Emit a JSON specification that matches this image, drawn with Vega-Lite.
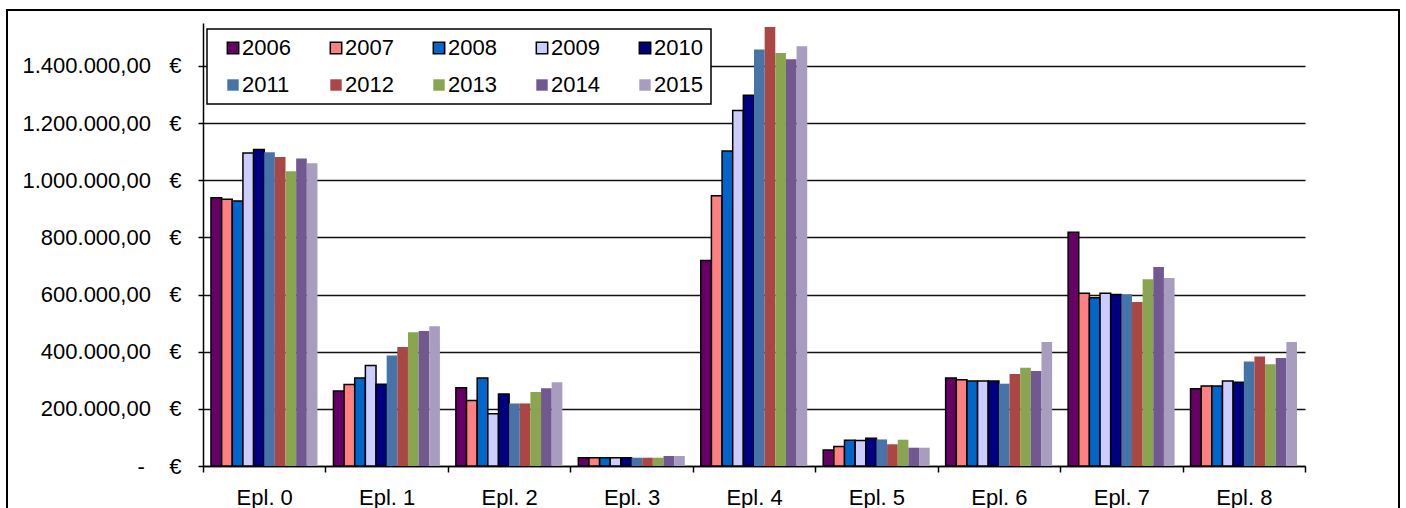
{
  "$schema": "https://vega.github.io/schema/vega-lite/v6.json",
  "width": 1392,
  "height": 499,
  "autosize": {"type": "none"},
  "padding": {"left": 7, "top": 10, "right": 7, "bottom": -1},
  "background": "white",
  "data": {"values": [
    {"epl": "Epl. 0", "year": "2006", "value": 939000},
    {"epl": "Epl. 0", "year": "2007", "value": 933000},
    {"epl": "Epl. 0", "year": "2008", "value": 927000},
    {"epl": "Epl. 0", "year": "2009", "value": 1095000},
    {"epl": "Epl. 0", "year": "2010", "value": 1107000},
    {"epl": "Epl. 0", "year": "2011", "value": 1098000},
    {"epl": "Epl. 0", "year": "2012", "value": 1081000},
    {"epl": "Epl. 0", "year": "2013", "value": 1031000},
    {"epl": "Epl. 0", "year": "2014", "value": 1076000},
    {"epl": "Epl. 0", "year": "2015", "value": 1059000},
    {"epl": "Epl. 1", "year": "2006", "value": 262000},
    {"epl": "Epl. 1", "year": "2007", "value": 285000},
    {"epl": "Epl. 1", "year": "2008", "value": 308000},
    {"epl": "Epl. 1", "year": "2009", "value": 352000},
    {"epl": "Epl. 1", "year": "2010", "value": 286000},
    {"epl": "Epl. 1", "year": "2011", "value": 387000},
    {"epl": "Epl. 1", "year": "2012", "value": 416000},
    {"epl": "Epl. 1", "year": "2013", "value": 468000},
    {"epl": "Epl. 1", "year": "2014", "value": 472000},
    {"epl": "Epl. 1", "year": "2015", "value": 489000},
    {"epl": "Epl. 2", "year": "2006", "value": 274000},
    {"epl": "Epl. 2", "year": "2007", "value": 229000},
    {"epl": "Epl. 2", "year": "2008", "value": 308000},
    {"epl": "Epl. 2", "year": "2009", "value": 183000},
    {"epl": "Epl. 2", "year": "2010", "value": 252000},
    {"epl": "Epl. 2", "year": "2011", "value": 219000},
    {"epl": "Epl. 2", "year": "2012", "value": 219000},
    {"epl": "Epl. 2", "year": "2013", "value": 259000},
    {"epl": "Epl. 2", "year": "2014", "value": 272000},
    {"epl": "Epl. 2", "year": "2015", "value": 293000},
    {"epl": "Epl. 3", "year": "2006", "value": 29000},
    {"epl": "Epl. 3", "year": "2007", "value": 29000},
    {"epl": "Epl. 3", "year": "2008", "value": 29000},
    {"epl": "Epl. 3", "year": "2009", "value": 29000},
    {"epl": "Epl. 3", "year": "2010", "value": 29000},
    {"epl": "Epl. 3", "year": "2011", "value": 29000},
    {"epl": "Epl. 3", "year": "2012", "value": 29000},
    {"epl": "Epl. 3", "year": "2013", "value": 29000},
    {"epl": "Epl. 3", "year": "2014", "value": 35000},
    {"epl": "Epl. 3", "year": "2015", "value": 35000},
    {"epl": "Epl. 4", "year": "2006", "value": 719000},
    {"epl": "Epl. 4", "year": "2007", "value": 946000},
    {"epl": "Epl. 4", "year": "2008", "value": 1102000},
    {"epl": "Epl. 4", "year": "2009", "value": 1244000},
    {"epl": "Epl. 4", "year": "2010", "value": 1297000},
    {"epl": "Epl. 4", "year": "2011", "value": 1457000},
    {"epl": "Epl. 4", "year": "2012", "value": 1536000},
    {"epl": "Epl. 4", "year": "2013", "value": 1445000},
    {"epl": "Epl. 4", "year": "2014", "value": 1423000},
    {"epl": "Epl. 4", "year": "2015", "value": 1469000},
    {"epl": "Epl. 5", "year": "2006", "value": 56000},
    {"epl": "Epl. 5", "year": "2007", "value": 68000},
    {"epl": "Epl. 5", "year": "2008", "value": 90000},
    {"epl": "Epl. 5", "year": "2009", "value": 89000},
    {"epl": "Epl. 5", "year": "2010", "value": 97000},
    {"epl": "Epl. 5", "year": "2011", "value": 93000},
    {"epl": "Epl. 5", "year": "2012", "value": 76000},
    {"epl": "Epl. 5", "year": "2013", "value": 92000},
    {"epl": "Epl. 5", "year": "2014", "value": 64000},
    {"epl": "Epl. 5", "year": "2015", "value": 64000},
    {"epl": "Epl. 6", "year": "2006", "value": 308000},
    {"epl": "Epl. 6", "year": "2007", "value": 302000},
    {"epl": "Epl. 6", "year": "2008", "value": 297000},
    {"epl": "Epl. 6", "year": "2009", "value": 297000},
    {"epl": "Epl. 6", "year": "2010", "value": 297000},
    {"epl": "Epl. 6", "year": "2011", "value": 288000},
    {"epl": "Epl. 6", "year": "2012", "value": 322000},
    {"epl": "Epl. 6", "year": "2013", "value": 344000},
    {"epl": "Epl. 6", "year": "2014", "value": 332000},
    {"epl": "Epl. 6", "year": "2015", "value": 434000},
    {"epl": "Epl. 7", "year": "2006", "value": 818000},
    {"epl": "Epl. 7", "year": "2007", "value": 604000},
    {"epl": "Epl. 7", "year": "2008", "value": 589000},
    {"epl": "Epl. 7", "year": "2009", "value": 604000},
    {"epl": "Epl. 7", "year": "2010", "value": 600000},
    {"epl": "Epl. 7", "year": "2011", "value": 601000},
    {"epl": "Epl. 7", "year": "2012", "value": 574000},
    {"epl": "Epl. 7", "year": "2013", "value": 653000},
    {"epl": "Epl. 7", "year": "2014", "value": 696000},
    {"epl": "Epl. 7", "year": "2015", "value": 658000},
    {"epl": "Epl. 8", "year": "2006", "value": 270000},
    {"epl": "Epl. 8", "year": "2007", "value": 280000},
    {"epl": "Epl. 8", "year": "2008", "value": 280000},
    {"epl": "Epl. 8", "year": "2009", "value": 297000},
    {"epl": "Epl. 8", "year": "2010", "value": 293000},
    {"epl": "Epl. 8", "year": "2011", "value": 366000},
    {"epl": "Epl. 8", "year": "2012", "value": 383000},
    {"epl": "Epl. 8", "year": "2013", "value": 356000},
    {"epl": "Epl. 8", "year": "2014", "value": 378000},
    {"epl": "Epl. 8", "year": "2015", "value": 434000}
  ]},
  "mark": {"type": "bar", "strokeWidth": 1.5},
  "encoding": {
    "x": {
      "field": "epl", "type": "nominal", "sort": null,
      "scale": {"range": [196, 1298], "paddingInner": 0, "paddingOuter": 0},
      "axis": {
        "title": null, "offset": -43, "tickBand": "extent", "grid": false,
        "domainColor": "black", "domainWidth": 1.5,
        "tickColor": "black", "tickSize": 6, "tickWidth": 1.5,
        "labelFont": "Liberation Sans", "labelFontSize": 22, "labelColor": "black",
        "labelPadding": 15, "labelAngle": 0
      }
    },
    "xOffset": {
      "field": "year", "type": "nominal", "sort": null,
      "scale": {"paddingInner": 0, "paddingOuter": 0.75}
    },
    "y": {
      "field": "value", "type": "quantitative",
      "scale": {"domain": [0, 1550000], "nice": false, "zero": true, "range": [456, 13]},
      "axis": {
        "title": null, "offset": -196,
        "values": [0, 200000, 400000, 600000, 800000, 1000000, 1200000, 1400000],
        "grid": true, "gridColor": "#111111", "gridWidth": 1.5,
        "domainColor": "black", "domainWidth": 1.5,
        "tickColor": "black", "tickSize": 5, "tickWidth": 1.5,
        "labelFont": "Liberation Sans", "labelFontSize": 22, "labelColor": "black",
        "labelPadding": 17,
        "labelExpr": "datum.value == 0 ? '-\u00a0\u00a0\u00a0\u00a0€' : replace(replace(replace(format(datum.value, ',.2f'), regexp(',', 'g'), '#'), regexp('[.]', 'g'), ','), regexp('#', 'g'), '.') + '\u00a0\u00a0\u00a0€'"
      }
    },
    "fill": {
      "field": "year", "type": "nominal",
      "scale": {
        "domain": ["2006", "2007", "2008", "2009", "2010", "2011", "2012", "2013", "2014", "2015"],
        "range": ["#660066", "#FF8080", "#0066CC", "#CCCCFF", "#000080", "#4674A8", "#AA4644", "#8AA54F", "#725891", "#A99DBF"]
      },
      "legend": {
        "title": null, "orient": "none", "legendX": 200, "legendY": 19,
        "columns": 5, "direction": "horizontal",
        "symbolType": "square", "symbolSize": 130, "symbolStrokeWidth": 1.5,
        "symbolOffset": 7, "labelOffset": -2,
        "labelFont": "Liberation Sans", "labelFontSize": 22, "labelColor": "black",
        "columnPadding": 27, "rowPadding": 15, "padding": 8,
        "strokeColor": "black", "fillColor": "white"
      }
    },
    "stroke": {
      "field": "year", "type": "nominal",
      "scale": {
        "domain": ["2006", "2007", "2008", "2009", "2010", "2011", "2012", "2013", "2014", "2015"],
        "range": ["black", "black", "black", "black", "black", "transparent", "transparent", "transparent", "transparent", "transparent"]
      },
      "legend": {
        "title": null, "orient": "none", "legendX": 200, "legendY": 19,
        "columns": 5, "direction": "horizontal",
        "symbolType": "square", "symbolSize": 130, "symbolStrokeWidth": 1.5,
        "symbolOffset": 7, "labelOffset": -2,
        "labelFont": "Liberation Sans", "labelFontSize": 22, "labelColor": "black",
        "columnPadding": 27, "rowPadding": 15, "padding": 8,
        "strokeColor": "black", "fillColor": "white"
      }
    }
  },
  "config": {
    "font": "Liberation Sans",
    "view": {"stroke": "black", "strokeWidth": 2},
    "legend": {"strokeWidth": 1.5}
  }
}
